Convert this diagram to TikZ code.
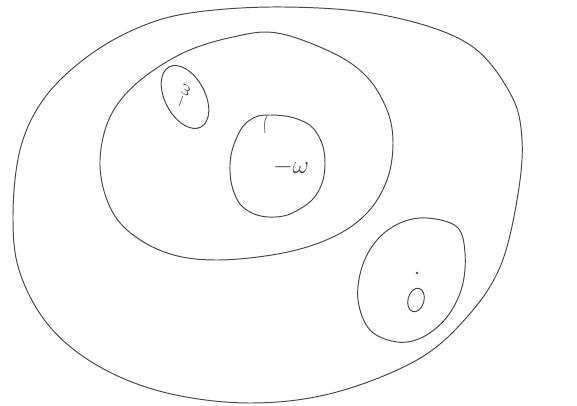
\documentclass[tikz,border=0pt]{standalone}
\usepackage{amsmath,amssymb}
\usepackage{xcolor}
\usepackage{tikz}
\usetikzlibrary{calc}
\definecolor{pencil}{RGB}{70,70,70}
\definecolor{pencillight}{RGB}{120,120,120}

\begin{document}
\begin{tikzpicture}[x=0.02cm,y=-0.02cm,
    sketch/.style={pencil,line width=0.55pt,line join=round},
    faint/.style={pencillight,line width=0.5pt},
    glyph/.style={pencil,inner sep=0pt}]
  % page frame (pixel units of the scan)
  \useasboundingbox (0,0) rectangle (577,405);
  % outer region, drawn freehand
  \draw[sketch] plot[smooth cycle,tension=0.6] coordinates {
      (190,13) (283,7) (383,15) (467,43) (510,93) (522,140) (517,200)
      (500,267) (467,317) (417,360) (333,393) (250,403) (167,393)
      (100,367) (50,327) (20,273) (13,217) (20,150) (43,100) (83,60) (133,30)};
  % inner region
  \draw[sketch] plot[smooth cycle,tension=0.6] coordinates {
      (277,33) (333,53) (367,77) (387,110) (393,143) (387,180) (367,213)
      (333,237) (283,253) (217,260) (167,253) (127,230) (107,200)
      (100,160) (110,117) (137,83) (183,53) (233,37)};
  % small tilted loop, upper left
  \draw[sketch] (185,97) ellipse[x radius=34,y radius=20,rotate=-62];
  \node[glyph,rotate=70,font=\normalsize] (topmark) at (183,96) {$-\omega$};
  % middle loop with the pen hook at its top
  \draw[sketch] plot[smooth cycle,tension=0.7] coordinates {
      (270,115) (300,120) (318,135) (325,163) (318,192) (298,210)
      (275,217) (250,212) (235,195) (230,165) (237,137) (250,120)};
  \draw[faint] (267,116) .. controls (264,122) .. (265,133);
  \node[glyph,font=\Large] (midmark) at (291,167) {$-\omega$};
  % lower right loop
  \draw[sketch] plot[smooth cycle,tension=0.6] coordinates {
      (427,218) (457,227) (465,253) (462,287) (447,317) (423,337)
      (397,342) (370,330) (358,300) (362,267) (377,240) (400,223)};
  % dot over a small ring
  \fill[pencil] (417,273) circle (1.3);
  \draw[sketch] (416,300) ellipse[x radius=8,y radius=12,rotate=-15];
\end{tikzpicture}
\end{document}
